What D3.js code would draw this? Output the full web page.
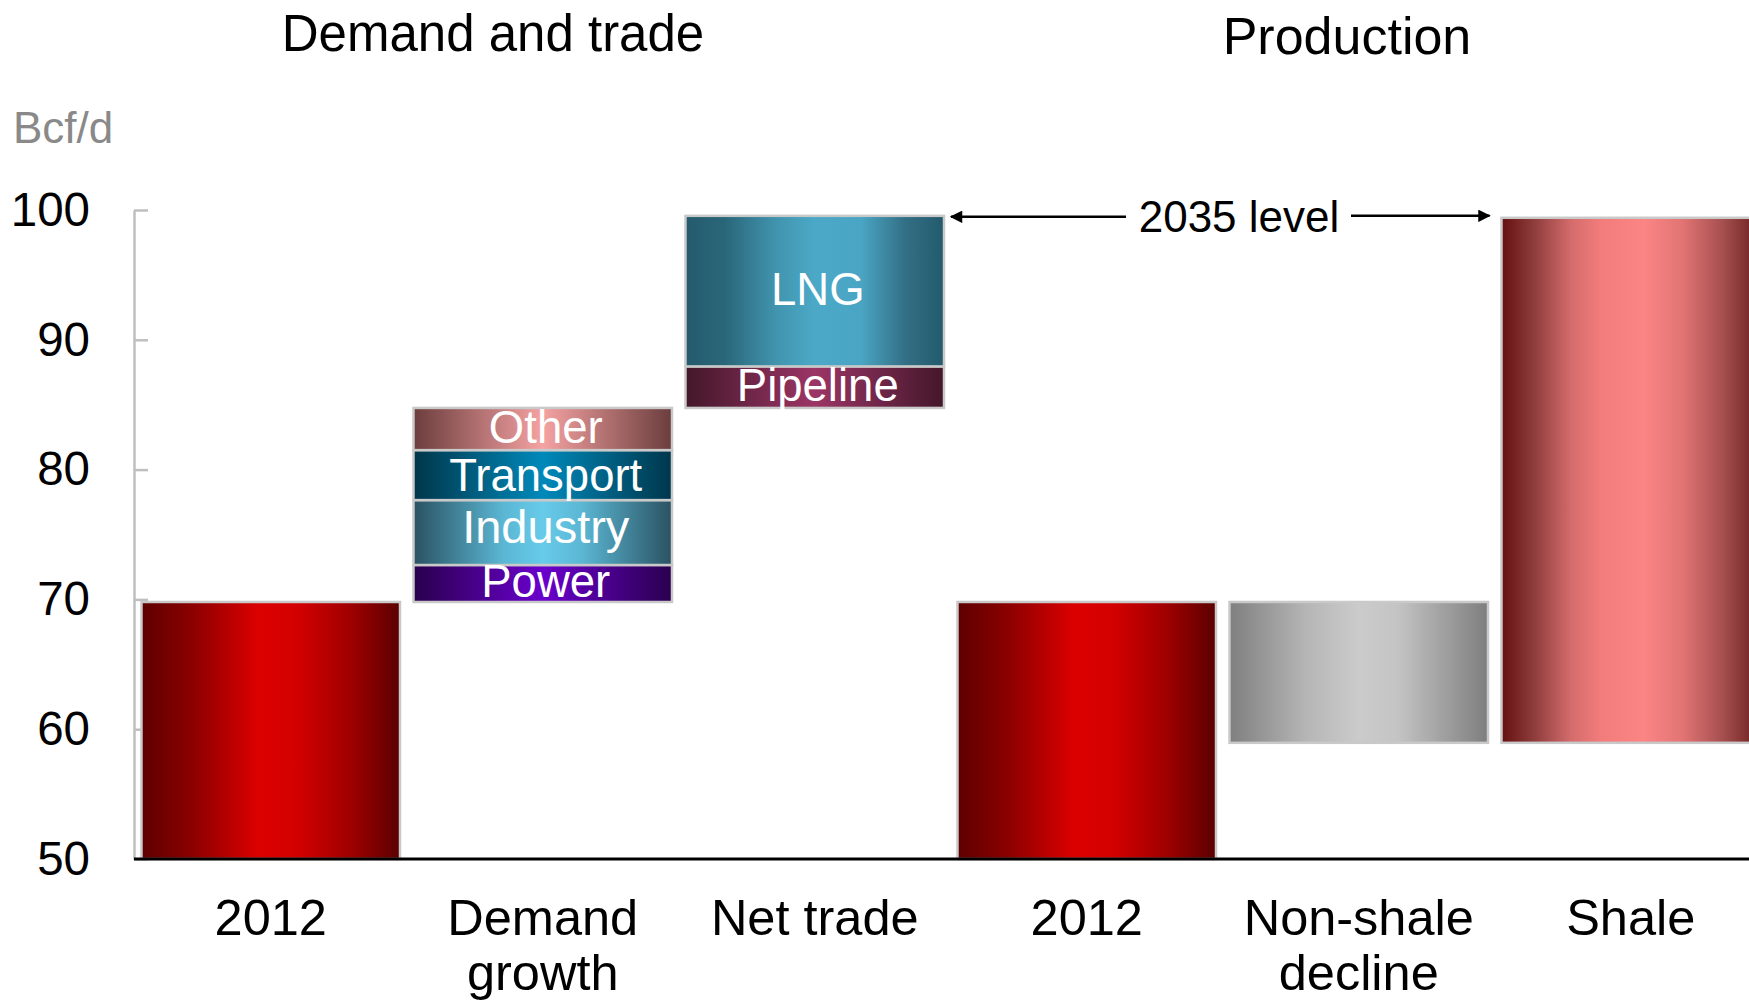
<!DOCTYPE html>
<html>
<head>
<meta charset="utf-8">
<script src="https://cdnjs.cloudflare.com/ajax/libs/d3/7.8.5/d3.min.js"></script>
<style>
  body { margin: 0; background: #fff; }
  svg { display: block; font-family: "Liberation Sans", Arial, sans-serif; }
</style>
</head>
<body>
<div id="chart"></div>
<script>
// values, Bcf/d
var categoryLabels = [["2012"], ["Demand", "growth"], ["Net trade"], ["2012"], ["Non-shale", "decline"], ["Shale"]];
var yTicks = [50, 60, 70, 80, 90, 100];

var demand2012 = 69.8;
var demandSegments = ["Power", "Industry", "Transport", "Other"];
var demandValues = [2.85, 5.0, 3.85, 3.25];
var tradeSegments = ["Pipeline", "LNG"];
var tradeValues = [3.2, 11.6];

var production2012 = 69.8;
var nonShaleDecline = -10.85;
var shaleGrowth = 40.45;

var width = 1749,
  height = 1003;

var svg = d3.select("#chart").append("svg")
  .attr("width", width)
  .attr("height", height);

// gradient fills (horizontal shading)
var gradients = {
  red: [[0, "#5e0000"], [0.2, "#8c0000"], [0.45, "#dc0000"], [0.6, "#d40000"], [0.8, "#a20000"], [1, "#5c0000"]],
  shale: [[0, "#661010"], [0.12, "#8c3a3a"], [0.27, "#d46c6c"], [0.38, "#f27b7b"], [0.55, "#fb8585"], [0.7, "#e27474"], [0.86, "#a44e4e"], [1, "#6a1c1c"]],
  grey: [[0, "#7f7f7f"], [0.3, "#b6b6b6"], [0.5, "#cbcbcb"], [0.65, "#c4c4c4"], [1, "#7e7e7e"]],
  LNG: [[0, "#245b6d"], [0.15, "#2a6679"], [0.35, "#4194ae"], [0.5, "#4ba9c7"], [0.68, "#49a5c3"], [0.85, "#336f85"], [1, "#235a6c"]],
  Pipeline: [[0, "#43172a"], [0.5, "#9b3566"], [1, "#44172b"]],
  Other: [[0, "#6c3d3d"], [0.5, "#f5a2a2"], [1, "#6b3d3d"]],
  Transport: [[0, "#00364a"], [0.5, "#0089ba"], [1, "#00364b"]],
  Industry: [[0, "#2a5262"], [0.35, "#5bb7d4"], [0.5, "#67cbe9"], [0.65, "#5bb7d4"], [1, "#2a5262"]],
  Power: [[0, "#29004d"], [0.5, "#6a00cd"], [1, "#2a004e"]]
};

var defs = svg.append("defs");
Object.keys(gradients).forEach(function(k) {
  var g = defs.append("linearGradient")
    .attr("id", "grad-" + k)
    .attr("x1", "0%").attr("x2", "100%")
    .attr("y1", "0%").attr("y2", "0%");
  gradients[k].forEach(function(s) {
    g.append("stop").attr("offset", s[0]).attr("stop-color", s[1]);
  });
});

defs.append("marker")
  .attr("id", "arrow")
  .attr("viewBox", "0 0 10 10")
  .attr("refX", 9).attr("refY", 5)
  .attr("markerWidth", 6).attr("markerHeight", 5)
  .attr("orient", "auto-start-reverse")
  .attr("markerUnits", "strokeWidth")
  .append("path")
  .attr("d", "M0,0L10,5L0,10z")
  .attr("fill", "#000");

var xScale = d3.scaleBand()
  .domain(d3.range(categoryLabels.length))
  .range([134.75, 1766.75])
  .paddingInner(0.0496)
  .paddingOuter(0.0248);

var yScale = d3.scaleLinear()
  .domain([50, 100])
  .range([859, 210]);

// build the waterfall pieces
var pieces = [];
pieces.push({ col: 0, from: 50, to: demand2012, fill: "red" });
var level = demand2012;
demandSegments.forEach(function(name, i) {
  pieces.push({ col: 1, from: level, to: level + demandValues[i], fill: name, label: name });
  level += demandValues[i];
});
tradeSegments.forEach(function(name, i) {
  pieces.push({ col: 2, from: level, to: level + tradeValues[i], fill: name, label: name });
  level += tradeValues[i];
});
var demand2035 = level;
pieces.push({ col: 3, from: 50, to: production2012, fill: "red" });
pieces.push({ col: 4, from: production2012 + nonShaleDecline, to: production2012, fill: "grey" });
pieces.push({ col: 5, from: production2012 + nonShaleDecline, to: production2012 + nonShaleDecline + shaleGrowth, fill: "shale" });

//Y axis
var yAxis = d3.axisLeft(yScale)
  .tickValues(yTicks)
  .tickSizeInner(-14)
  .tickSizeOuter(0)
  .tickPadding(44);

var yG = svg.append("g")
  .attr("transform", "translate(134,0)")
  .call(yAxis);
yG.select(".domain").attr("stroke", "#bfbfbf").attr("stroke-width", 2.5);
yG.selectAll(".tick line").attr("stroke", "#bfbfbf").attr("stroke-width", 2.5);
yG.selectAll(".tick text")
  .attr("font-size", 47.5)
  .attr("fill", "#000")
  .attr("font-family", "Liberation Sans, Arial, sans-serif");

//Bars
svg.append("g").selectAll("rect")
  .data(pieces)
  .join("rect")
  .attr("x", function(d) { return xScale(d.col); })
  .attr("width", xScale.bandwidth())
  .attr("y", function(d) { return yScale(Math.max(d.from, d.to)); })
  .attr("height", function(d) { return Math.abs(yScale(d.from) - yScale(d.to)); })
  .attr("fill", function(d) { return "url(#grad-" + d.fill + ")"; })
  .attr("stroke", "#c9c9c9")
  .attr("stroke-width", 2.5);

//Segment labels
svg.append("g").selectAll("text")
  .data(pieces.filter(function(d) { return d.label; }))
  .join("text")
  .attr("x", function(d) { return xScale(d.col) + xScale.bandwidth() / 2 + 3; })
  .attr("y", function(d) { return yScale((d.from + d.to) / 2); })
  .attr("dy", function(d) { return d.label === "Transport" ? "0.36em" : d.label === "Industry" ? "0.22em" : "0.3em"; })
  .attr("text-anchor", "middle")
  .attr("font-size", function(d) { return d.label === "Industry" ? 47 : 45.5; })
  .attr("fill", "#fff")
  .text(function(d) { return d.label; });

//X axis line
var xAxis = d3.axisBottom(xScale).tickSize(0).tickFormat("");
var xG = svg.append("g")
  .attr("transform", "translate(0," + yScale(50) + ")")
  .call(xAxis);
xG.select(".domain").attr("stroke", "#000").attr("stroke-width", 3)
  .attr("d", "M134," + 0 + "H" + width);

//Category labels
var catG = svg.append("g").selectAll("text")
  .data(categoryLabels)
  .join("text")
  .attr("text-anchor", "middle")
  .attr("font-size", 50.5)
  .attr("fill", "#000");
catG.selectAll("tspan")
  .data(function(d, i) { return d.map(function(t) { return { t: t, col: i }; }); })
  .join("tspan")
  .attr("x", function(d) { return xScale(d.col) + xScale.bandwidth() / 2; })
  .attr("y", function(d, j) { return 935 + j * 55; })
  .text(function(d) { return d.t; });

//Unit label
svg.append("text")
  .attr("x", 13)
  .attr("y", 143)
  .attr("font-size", 44)
  .attr("fill", "#898989")
  .text("Bcf/d");

//Section titles
svg.append("text")
  .attr("x", 493).attr("y", 51)
  .attr("text-anchor", "middle")
  .attr("font-size", 51)
  .text("Demand and trade");

svg.append("text")
  .attr("x", 1347).attr("y", 54)
  .attr("text-anchor", "middle")
  .attr("font-size", 52)
  .text("Production");

//2035 level annotation
var yLevel = yScale(demand2035) + 1;
var textX = 1239;
svg.append("line")
  .attr("x1", textX - 113).attr("x2", xScale(2) + xScale.bandwidth() + 7)
  .attr("y1", yLevel).attr("y2", yLevel)
  .attr("stroke", "#000").attr("stroke-width", 2.5)
  .attr("marker-end", "url(#arrow)");
svg.append("line")
  .attr("x1", textX + 112).attr("x2", xScale(5) - 12)
  .attr("y1", yLevel - 1).attr("y2", yLevel - 1)
  .attr("stroke", "#000").attr("stroke-width", 2.5)
  .attr("marker-end", "url(#arrow)");
svg.append("text")
  .attr("x", textX).attr("y", yLevel)
  .attr("dy", "0.35em")
  .attr("text-anchor", "middle")
  .attr("font-size", 44)
  .text("2035 level");
</script>
</body>
</html>
